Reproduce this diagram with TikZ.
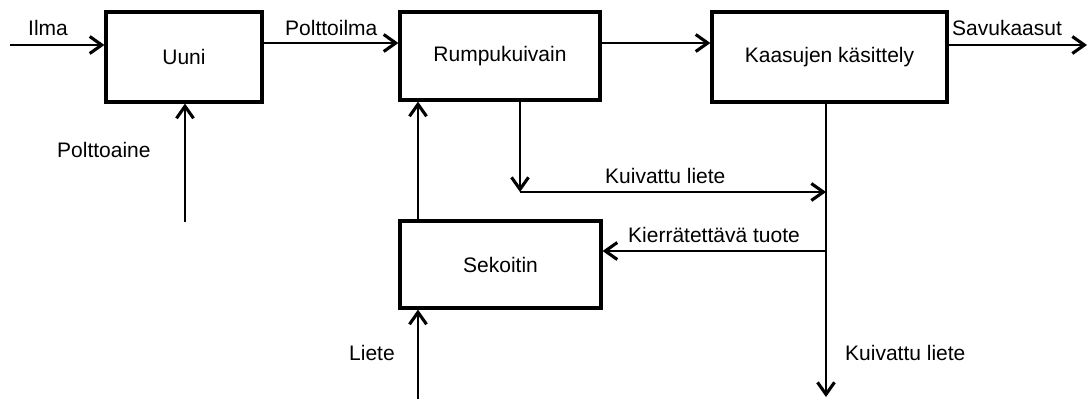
\documentclass[tikz,border=0pt]{standalone}
\usepackage{fontspec}
\setmainfont{Liberation Sans}
\usetikzlibrary{arrows.meta}
\begin{document}
\begin{tikzpicture}[x=1pt,y=-1pt,
  proc/.style={draw, line width=3.2pt, inner sep=0pt, font=\fontsize{21}{25}\selectfont},
  flow/.style={line width=1.4pt, -{Straight Barb[length=12pt,width=17pt,line width=3.1pt]}},
  lbl/.style={inner sep=0pt, anchor=base west, font=\fontsize{21}{25}\selectfont}]
\useasboundingbox (0,0) rectangle (1088,399);
% boxes
\node[proc, minimum width=156pt, minimum height=90pt] (uuni) at (184,57) {Uuni};
\node[proc, minimum width=200pt, minimum height=88pt] (rump) at (500,56) {Rumpukuivain};
\node[proc, minimum width=235pt, minimum height=90pt] (kaasu) at (829.5,57) {Kaasujen käsittely};
\node[proc, minimum width=201pt, minimum height=87pt] (sek) at (500.5,264.5) {Sekoitin};
% helper coordinates
\coordinate (ilmaS) at (10,45);
\coordinate (r1) at (0,43);
\coordinate (r2) at (0,45);
\coordinate (savu) at (1087,45);
\coordinate (pa) at (185,222);
\coordinate (kl1) at (520,192);
\coordinate (kj) at (826,192);
\coordinate (kout) at (826,397);
\coordinate (kt) at (826,251);
\coordinate (s1) at (418,0);
\coordinate (lie) at (418,399);
% connectors
\draw[flow] (ilmaS) -- (ilmaS -| uuni.west);
\draw[flow] (uuni.east |- r1) -- (rump.west |- r1);
\draw[flow] (rump.east |- r1) -- (kaasu.west |- r1);
\draw[flow] (kaasu.east |- r2) -- (savu);
\draw[flow] (pa) -- (pa |- uuni.south);
\draw[flow] (kl1 |- rump.south) -- (kl1);
\draw[flow] (kl1) -- (kj);
\draw[flow] (kout |- kaasu.south) -- (kout);
\draw[flow] (kt) -- (kt -| sek.east);
\draw[flow] (s1 |- sek.north) -- (s1 |- rump.south);
\draw[flow] (lie) -- (lie |- sek.south);
% labels
\node[lbl] (lIlma) at (28,35) {Ilma};
\node[lbl] (lPi) at (285,35) {Polttoilma};
\node[lbl] (lPa) at (57,157) {Polttoaine};
\node[lbl] (lKl1) at (605,183) {Kuivattu liete};
\node[lbl] (lSavu) at (952,35) {Savukaasut};
\node[lbl] (lKt) at (628,242) {Kierrätettävä tuote};
\node[lbl] (lLiete) at (349,360) {Liete};
\node[lbl] (lKl2) at (845,360) {Kuivattu liete};
\end{tikzpicture}
\end{document}
